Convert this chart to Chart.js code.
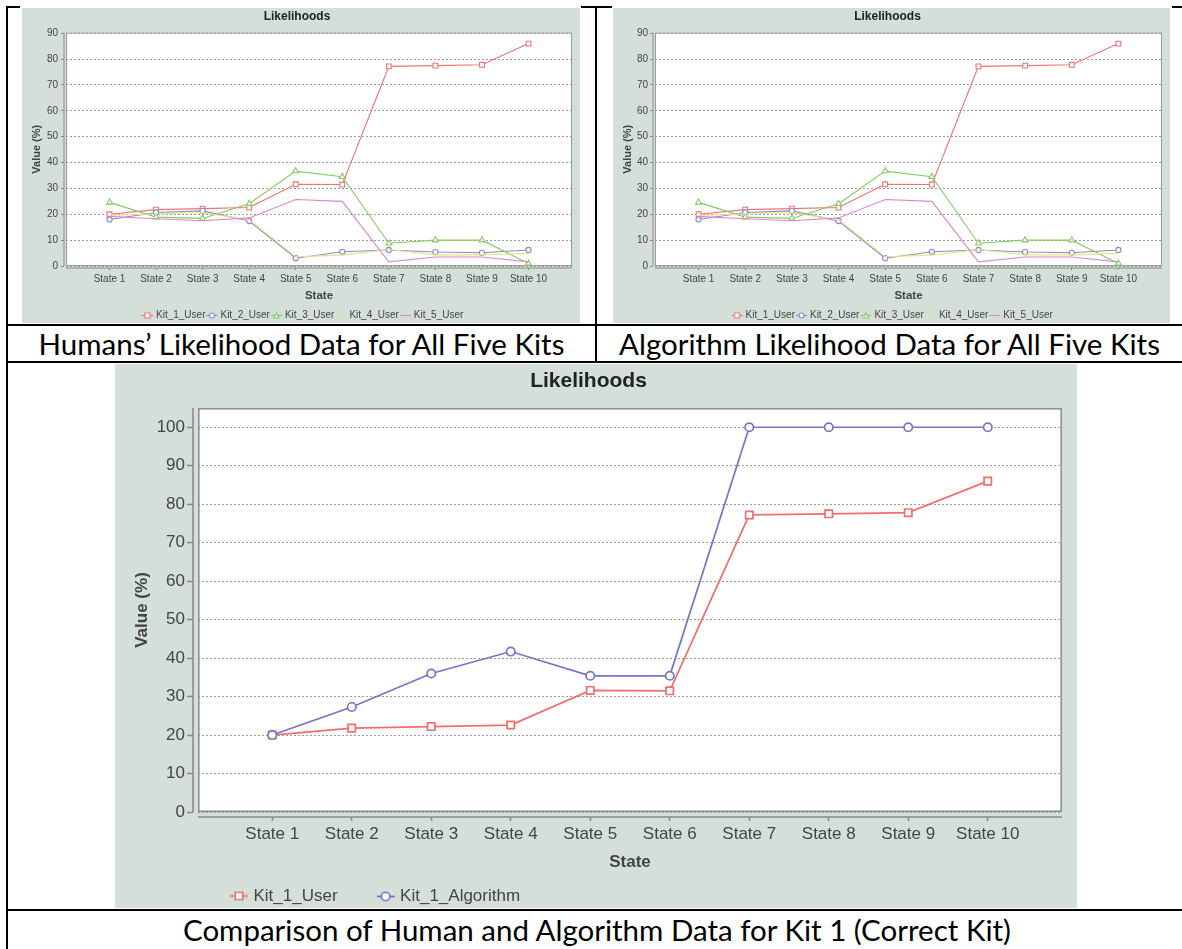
<!DOCTYPE html>
<html>
<head>
<meta charset="utf-8">
<script src="https://cdn.jsdelivr.net/npm/chart.js@4.4.1/dist/chart.umd.min.js"></script>
<style>
  html, body { margin:0; padding:0; background:#fff; }
  body { position:relative; width:1182px; height:949px; overflow:hidden; }
  .ln { position:absolute; background:#000; }
  .pnl { position:absolute; }
  .pnl canvas { display:block; }
  .cap { position:absolute; font-family: Lato, 'Open Sans', sans-serif; font-size:29.5px; color:#000; text-align:center; white-space:nowrap; }
</style>
</head>
<body>
<div class="ln" style="left:6px;top:6px;width:2px;height:943px"></div>
<div class="ln" style="left:6px;top:6px;width:14px;height:2px"></div>
<div class="ln" style="left:581px;top:6px;width:31px;height:2px"></div>
<div class="ln" style="left:1172px;top:6px;width:10px;height:2px"></div>
<div class="ln" style="left:595px;top:6px;width:2px;height:357px"></div>
<div class="ln" style="left:6px;top:324px;width:1176px;height:2px"></div>
<div class="ln" style="left:6px;top:361px;width:1176px;height:2px"></div>
<div class="ln" style="left:6px;top:909px;width:1176px;height:2px"></div>

<div class="pnl" style="left:22px;top:8px;"><canvas id="c1" width="558" height="315"></canvas></div>
<div class="pnl" style="left:613px;top:8px;"><canvas id="c2" width="557" height="315"></canvas></div>
<div class="pnl" style="left:115px;top:364px;"><canvas id="c3" width="962" height="544"></canvas></div>

<div class="cap" style="left:8px;top:326px;width:587px;height:35px;line-height:35px">Humans’ Likelihood Data for All Five Kits</div>
<div class="cap" style="left:597px;top:326px;width:585px;height:35px;line-height:35px">Algorithm Likelihood Data for All Five Kits</div>
<div class="cap" style="left:8px;top:911px;width:1178px;height:38px;line-height:38px">Comparison of Human and Algorithm Data for Kit 1 (Correct Kit)</div>

<script>
// ---------------- DATA ----------------
const states = ['State 1','State 2','State 3','State 4','State 5','State 6','State 7','State 8','State 9','State 10'];
const yTicksSmall = [0,10,20,30,40,50,60,70,80,90];
const yTicksLarge = [0,10,20,30,40,50,60,70,80,90,100];
const kit1User      = [20.0, 21.8, 22.2, 22.6, 31.6, 31.5, 77.2, 77.5, 77.8, 86.0];
const kit2User      = [18.0, 20.7, 21.3, 17.4,  3.0,  5.5,  6.2,  5.4,  5.1,  6.2];
const kit3User      = [24.6, 18.9, 18.4, 24.1, 36.7, 34.5,  8.8, 10.0, 10.0,  1.0];
const kit4User      = [19.6, 20.1, 20.6, 17.9,  3.6,  4.2,  6.4,  4.3,  4.3,  4.9];
const kit5User      = [19.2, 18.3, 17.5, 18.6, 25.7, 25.0,  1.6,  3.5,  3.5,  1.6];
const kit1Algorithm = [20.0, 27.3, 36.0, 41.7, 35.4, 35.4, 100, 100, 100, 100];

// ---------------- STYLE ----------------
const FONT = "'Liberation Sans', Arial, sans-serif";
const PANEL_BG = '#d5dfda';
const TEXT = '#444444';
const GRID = '#9c9c9c';
const AXIS = '#8a8a8a';

function makeIcon(color, style, size, w, lw) {
  const h = Math.ceil(size + lw * 2 + 4);
  const c = document.createElement('canvas');
  c.width = w; c.height = h;
  const x = c.getContext('2d');
  const cy = Math.floor(h / 2) + 0.5;
  x.strokeStyle = color; x.lineWidth = lw;
  x.beginPath(); x.moveTo(0, cy); x.lineTo(w, cy); x.stroke();
  const cx = w / 2;
  if (style) {
    x.fillStyle = '#ffffff';
    x.beginPath();
    if (style === 'rect') {
      x.rect(cx - size / 2, cy - size / 2, size, size);
    } else if (style === 'circle') {
      x.arc(cx, cy, size / 2, 0, Math.PI * 2);
    } else if (style === 'triangle') {
      x.moveTo(cx, cy - size / 2);
      x.lineTo(cx + size / 2, cy + size / 2);
      x.lineTo(cx - size / 2, cy + size / 2);
      x.closePath();
    }
    x.fill(); x.stroke();
  }
  return c;
}

const jfree = {
  id: 'jfree',
  afterLayout(chart, args, o) {
    const lg = chart.legend;
    if (lg && o.legTop != null) {
      lg.top = o.legTop; lg.bottom = o.legTop + lg.height;
      lg.left = o.legLeft; lg.right = chart.width;
    }
  },
  beforeDraw(chart, args, o) {
    const {ctx, chartArea: a} = chart;
    ctx.save();
    ctx.fillStyle = o.bg; ctx.fillRect(0, 0, chart.width, chart.height);
    ctx.fillStyle = '#ffffff'; ctx.fillRect(a.left, a.top, a.right - a.left, a.bottom - a.top);
    ctx.restore();
  },
  beforeDatasetsDraw(chart, args, o) {
    const {ctx, chartArea: a} = chart;
    ctx.save();
    ctx.strokeStyle = o.outline; ctx.lineWidth = o.outlineW;
    const h = o.outlineW / 2;
    ctx.strokeRect(a.left + h, a.top + h, a.right - a.left - 2 * h, a.bottom - a.top - 2 * h);
    ctx.strokeStyle = AXIS; ctx.lineWidth = o.axisW;
    ctx.beginPath();
    const ax = a.left - o.yOff;
    ctx.moveTo(ax, a.top); ctx.lineTo(ax, a.bottom);
    const ay = a.bottom + o.xOff;
    ctx.moveTo(a.left, ay); ctx.lineTo(a.right, ay);
    ctx.stroke();
    ctx.restore();
  }
};

function makeChart(id, L, series, yMax, yTicks) {
  const P = L.panel, Q = L.plot;
  const pl = Q.left - P.left, pr = (P.left + P.width) - Q.right;
  const pt = Q.top - P.top, pb = Q.bottom - P.top;
  const titleLh = L.titleSize * 1.2;
  const titlePadTop = (L.titleCY - P.top) - titleLh / 2;
  const titlePadBot = pt - titlePadTop - titleLh;
  const yTL = L.yOff + L.yMark;
  const yTickPad = pl - (L.yTickRight - P.left) - yTL;
  const yTitleLh = L.yTitleSize * 1.2;
  const yTitlePad = (L.yTitleCX - P.left) - yTitleLh / 2;
  const xTL = L.xOff + L.xMark;
  const tickLh = L.tickSize * 1.2;
  const xTickPad = (L.xTickCY - Q.bottom) - xTL - tickLh / 2;
  const xTitleLh = L.xTitleSize * 1.2;
  const xH = (L.xTitleCY - Q.bottom) + xTitleLh / 2;
  const legH = L.legSize + L.legPad + 10;
  const padBottom = P.height - pb - xH - legH;
  const legTop = (L.legCY - P.top) - L.legPad - L.legSize / 2;
  const legLeft = (L.legX - P.left) - L.legPad;
  const n = series.length;

  const datasets = series.map((s, i) => ({
    label: s.label,
    data: s.data.map((v, k) => ({x: k, y: v})),
    borderColor: s.color,
    backgroundColor: s.color,
    borderWidth: L.lineW,
    pointStyle: s.style || 'circle',
    pointRadius: s.style ? s.radius : 0,
    pointHoverRadius: s.style ? s.radius : 0,
    pointBorderColor: s.color,
    pointBackgroundColor: '#ffffff',
    pointBorderWidth: L.lineW,
    tension: 0,
    order: n - i
  }));
  const icons = series.map(s => makeIcon(s.color, s.style, s.iconSize, L.iconW, L.lineW));

  return new Chart(document.getElementById(id), {
    type: 'line',
    data: { datasets },
    plugins: [jfree],
    options: {
      responsive: false, animation: false, devicePixelRatio: 1,
      events: [],
      layout: { padding: { left: 0, top: 0, right: pr, bottom: padBottom } },
      plugins: {
        tooltip: { enabled: false },
        title: {
          display: true, text: 'Likelihoods', color: '#222222',
          font: { family: FONT, size: L.titleSize, weight: 'bold' },
          padding: { top: titlePadTop, bottom: titlePadBot }
        },
        legend: {
          display: true, position: 'bottom', align: 'start',
          labels: {
            usePointStyle: true, boxWidth: L.legBox, padding: L.legPad,
            color: TEXT, font: { family: FONT, size: L.legSize },
            generateLabels(chart) {
              const items = Chart.defaults.plugins.legend.labels.generateLabels(chart);
              items.forEach(it => { it.pointStyle = icons[it.datasetIndex]; });
              return items;
            },
            sort: (a, b) => a.datasetIndex - b.datasetIndex
          }
        },
        jfree: {
          bg: PANEL_BG, outline: L.outline, outlineW: L.outlineW, axisW: L.axisW,
          yOff: L.yOff, xOff: L.xOff, legTop, legLeft
        }
      },
      scales: {
        x: {
          type: 'linear', min: -0.934, max: 9.934, bounds: 'data',
          afterBuildTicks: s => { s.ticks = states.map((_, k) => ({ value: k })); },
          afterFit: s => { s.height = xH; },
          ticks: {
            autoSkip: false, maxRotation: 0, minRotation: 0, padding: xTickPad,
            color: TEXT, font: { family: FONT, size: L.tickSize },
            callback: v => states[v]
          },
          grid: {
            drawOnChartArea: false, drawTicks: true, tickLength: xTL,
            tickColor: AXIS, tickWidth: L.axisW, tickBorderDash: [0, L.xOff, L.xMark, 100]
          },
          border: { display: false },
          title: {
            display: true, text: 'State', color: TEXT,
            font: { family: FONT, size: L.xTitleSize, weight: 'bold' },
            padding: { top: 0, bottom: 0 }
          }
        },
        y: {
          type: 'linear', min: 0, max: yMax, bounds: 'data',
          afterBuildTicks: s => { s.ticks = yTicks.map(v => ({ value: v })); },
          afterFit: s => { s.width = pl; },
          ticks: {
            padding: yTickPad, color: TEXT, font: { family: FONT, size: L.tickSize }
          },
          grid: {
            color: GRID, lineWidth: 1, drawTicks: true, tickLength: yTL,
            tickColor: AXIS, tickWidth: L.axisW, tickBorderDash: [L.yMark, 100],
            borderDash: [2, 2]
          },
          border: { display: false, dash: [2, 2] },
          title: {
            display: true, text: 'Value (%)', color: TEXT,
            font: { family: FONT, size: L.yTitleSize, weight: 'bold' },
            padding: { top: yTitlePad, bottom: 0 }
          }
        }
      }
    }
  });
}

const smallSeries = [
  { label: 'Kit_1_User', data: kit1User, color: '#f07272', style: 'rect',     radius: 3.4, iconSize: 5 },
  { label: 'Kit_2_User', data: kit2User, color: '#8a86da', style: 'circle',   radius: 2.6, iconSize: 5 },
  { label: 'Kit_3_User', data: kit3User, color: '#84cb62', style: 'triangle', radius: 3.4, iconSize: 5 },
  { label: 'Kit_4_User', data: kit4User, color: '#e6e67e', style: null,       radius: 0,   iconSize: 5 },
  { label: 'Kit_5_User', data: kit5User, color: '#dc88d2', style: null,       radius: 0,   iconSize: 5 }
];

const smallBase = {
  titleSize: 12, titleCY: 17,
  tickSize: 10, yOff: 2, yMark: 3, xOff: 2, xMark: 2,
  yTitleSize: 11, xTitleSize: 11.5,
  xTickCY: 279, xTitleCY: 296,
  legSize: 10, legPad: 3, legBox: 7, legCY: 315, iconW: 11,
  lineW: 1.1, outline: '#9a9a9a', outlineW: 1, axisW: 1
};

makeChart('c1', Object.assign({}, smallBase, {
  panel: { left: 22, top: 8, width: 558, height: 315 },
  plot: { left: 66, right: 572, top: 32.5, bottom: 266 },
  yTickRight: 58, yTitleCX: 37, legX: 144
}), smallSeries, 90.3, yTicksSmall);

makeChart('c2', Object.assign({}, smallBase, {
  panel: { left: 613, top: 8, width: 557, height: 315 },
  plot: { left: 655, right: 1162, top: 32.5, bottom: 266 },
  yTickRight: 648, yTitleCX: 628, legX: 733.5
}), smallSeries, 90.3, yTicksSmall);

const largeSeries = [
  { label: 'Kit_1_User',      data: kit1User,      color: '#f06e6e', style: 'rect',   radius: 5.2, iconSize: 7.5 },
  { label: 'Kit_1_Algorithm', data: kit1Algorithm, color: '#7474c8', style: 'circle', radius: 4.2, iconSize: 8.5 }
];

makeChart('c3', {
  panel: { left: 115, top: 364, width: 962, height: 544 },
  plot: { left: 198, right: 1062, top: 408, bottom: 812 },
  titleSize: 21, titleCY: 381,
  tickSize: 17, yOff: 5, yMark: 6, xOff: 5, xMark: 4,
  yTickRight: 185, yTitleSize: 17, yTitleCX: 142,
  xTitleSize: 17, xTickCY: 834, xTitleCY: 862,
  legSize: 17, legPad: 42, legBox: 12, legCY: 896, legX: 233, iconW: 18,
  lineW: 1.7, outline: '#8f8f8f', outlineW: 1.6, axisW: 1.6
}, largeSeries, 105, yTicksLarge);
</script>
</body>
</html>
